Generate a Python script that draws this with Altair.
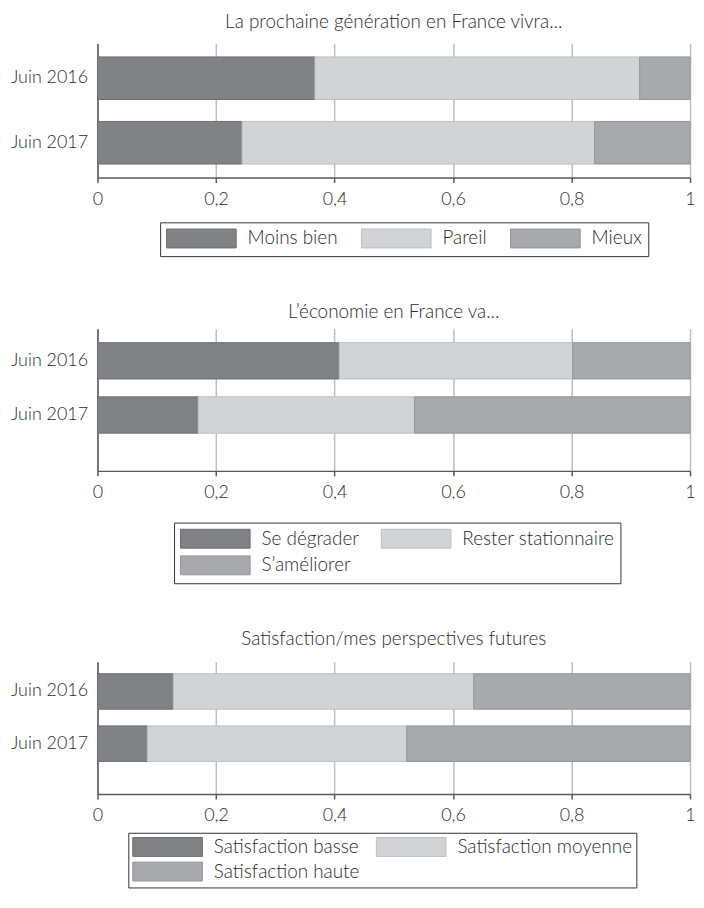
import altair as alt
import pandas as pd

periods = ["Juin 2016", "Juin 2017"]

title1 = "La prochaine génération en France vivra..."
cats1 = ["Moins bien", "Pareil", "Mieux"]
vals1_2016 = [0.367, 0.548, 0.085]
vals1_2017 = [0.244, 0.595, 0.161]

title2 = "L’économie en France va..."
cats2 = ["Se dégrader", "Rester stationnaire", "S’améliorer"]
vals2_2016 = [0.408, 0.394, 0.198]
vals2_2017 = [0.170, 0.365, 0.465]

title3 = "Satisfaction/mes perspectives futures"
cats3 = ["Satisfaction basse", "Satisfaction moyenne", "Satisfaction haute"]
vals3_2016 = [0.128, 0.507, 0.365]
vals3_2017 = [0.084, 0.438, 0.478]

x_ticks = [0, 0.2, 0.4, 0.6, 0.8, 1]

FILLS = ["#808285", "#d1d3d4", "#a7a9ac"]
STROKES = ["#6d6e71", "#bcbec0", "#939598"]
FONT = "Lato"
TXT = "#2b2b2b"
# wide legend swatch: 19px tall, 70px wide, anchored at the left of its slot
SWATCH = "M-1,-1L6.37,-1L6.37,1L-1,1Z"


def panel(title, cats, v16, v17, h, pi, po, al, toff, lx, ly, cols, cpad, lpad, rpad):
    rows = []
    for p, vals in zip(periods, [v16, v17]):
        for i, (c, v) in enumerate(zip(cats, vals)):
            rows.append({"periode": p, "cat": c, "val": v, "ord": i})
    df = pd.DataFrame(rows)
    legend = alt.Legend(
        title=None, orient="none", legendX=lx, legendY=ly, columns=cols,
        direction="horizontal",
        symbolType=SWATCH, symbolSize=361,
        symbolStrokeWidth=1, symbolOpacity=1,
        labelFont=FONT, labelFontSize=19, labelFontWeight=300,
        labelColor=TXT, labelLimit=400,
        labelOffset=62, columnPadding=cpad, rowPadding=rpad,
        padding=lpad, strokeColor="#333333", fillColor="white",
    )
    return alt.Chart(df, title=alt.Title(title, offset=toff, anchor="middle")).mark_bar(
        strokeWidth=1
    ).encode(
        x=alt.X("val:Q", stack="zero",
                scale=alt.Scale(domain=[0, 1], nice=False),
                axis=alt.Axis(title=None, values=x_ticks, grid=True,
                              gridColor="#bcbec0", gridWidth=1.5,
                              domainColor="#58595b", domainWidth=1.5,
                              tickColor="#58595b", tickWidth=1.5, tickSize=5,
                              labelPadding=8, labelFlush=False,
                              labelExpr="replace(format(datum.value, '.1~f'), '.', ',')")),
        y=alt.Y("periode:N", sort=periods,
                scale=alt.Scale(paddingInner=pi, paddingOuter=po, align=al),
                axis=alt.Axis(title=None, ticks=False, labelPadding=10,
                              minExtent=88, maxExtent=88,
                              domainColor="#58595b", domainWidth=1.5)),
        color=alt.Color("cat:N", scale=alt.Scale(domain=cats, range=FILLS), legend=legend),
        stroke=alt.Stroke("cat:N", scale=alt.Scale(domain=cats, range=STROKES), legend=legend),
        order=alt.Order("ord:Q"),
    ).properties(width=596, height=h)


c1 = panel(title1, cats1, vals1_2016, vals1_2017, 135, 0.34, 0.21, 0.5, 11, 63, 180, 3, 21, 6, 3)
c2 = panel(title2, cats2, vals2_2016, vals2_2017, 143, 0.33, 0.477, 0.27, 7, 77, 195, 2, 19, 6, 3)
c3 = panel(title3, cats3, vals3_2016, vals3_2017, 133, 0.32, 0.427, 0.268, 13, 31, 172, 2, 14, 4, 1)

chart = alt.vconcat(c1, c2, c3, spacing=46).resolve_scale(
    color="independent", stroke="independent"
).properties(
    padding={"left": 2, "top": 3, "right": 0, "bottom": 0}
).configure_view(stroke=None).configure_axis(
    labelFont=FONT, labelFontSize=18, labelFontWeight=300, labelColor=TXT
).configure_title(
    font=FONT, fontSize=19, color=TXT, fontWeight=300
)

chart.save("out.html", embed_options={"renderer": "svg", "actions": False})
